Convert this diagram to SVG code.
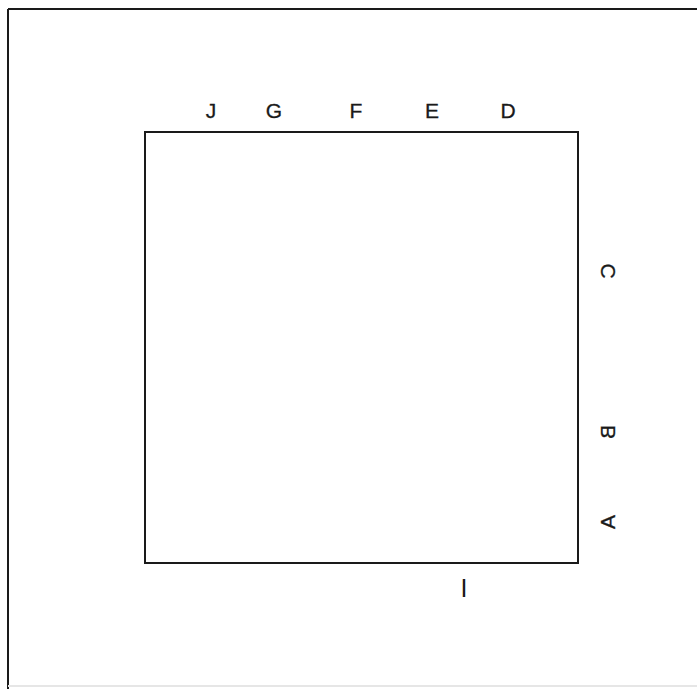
<svg xmlns="http://www.w3.org/2000/svg" width="697" height="689" viewBox="0 0 697 689">
<style>
.lbl{font-family:"Liberation Sans",Arial,sans-serif;font-size:21px;fill:#1a1a1a;stroke:#1a1a1a;stroke-width:0.3;text-anchor:middle}
.frame{fill:none;stroke:#1a1a1a;stroke-width:2}
</style>
<rect width="697" height="689" fill="#ffffff"/>
<g id="frame">
<line x1="8" y1="9" x2="697" y2="9" class="frame"/>
<line x1="8" y1="9" x2="8" y2="689" class="frame"/>
<line x1="8" y1="686" x2="697" y2="686" stroke="#e6e6e6" stroke-width="2"/>
</g>
<g id="square">
<rect x="145" y="132" width="433" height="431" class="frame"/>
</g>
<g id="labels">
<text class="lbl" x="211" y="118">J</text>
<text class="lbl" x="274" y="118">G</text>
<text class="lbl" x="356" y="118">F</text>
<text class="lbl" x="432" y="118">E</text>
<text class="lbl" x="508" y="118">D</text>
<text class="lbl" transform="matrix(0,1,1,0,615,271)">C</text>
<text class="lbl" transform="matrix(0,1,1,0,615,432)">B</text>
<text class="lbl" transform="matrix(0,1,1,0,615,522)">A</text>
<text class="lbl" x="464" y="597" style="font-size:25px;stroke:none">I</text>
</g>
</svg>
